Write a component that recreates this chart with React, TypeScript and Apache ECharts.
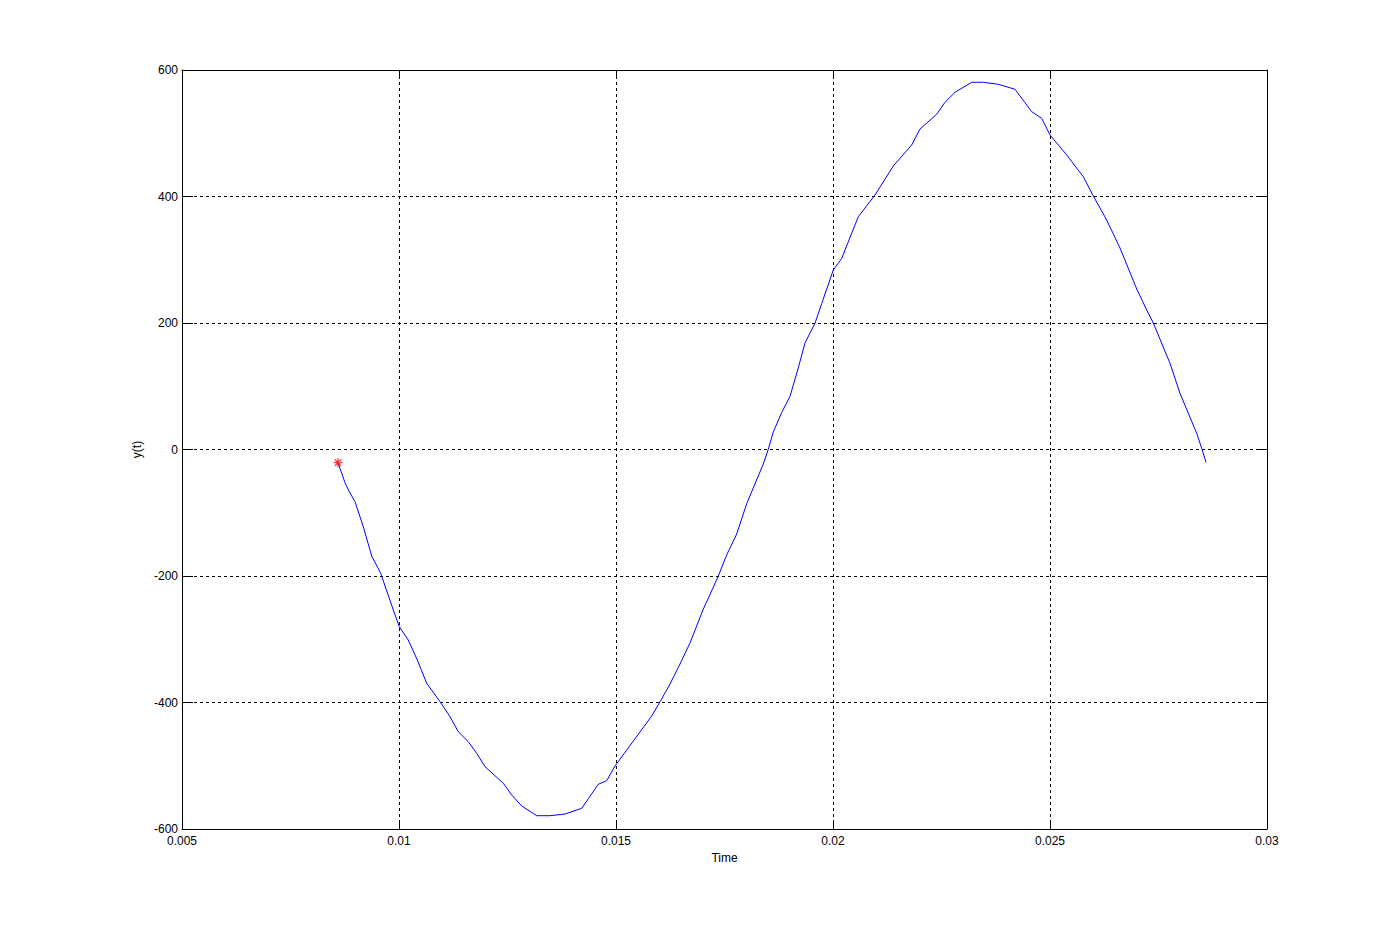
import React, { useEffect, useRef } from "react";
import * as echarts from "echarts";

const timeValues = [
  0.008594, 0.008756, 0.008855, 0.008986, 0.009177, 0.009371, 0.009578, 0.009869,
  0.010007, 0.010214, 0.010422, 0.010638, 0.010945, 0.011175, 0.011366, 0.011597,
  0.01179, 0.011982, 0.012403, 0.012597, 0.012827, 0.013173, 0.013479, 0.013825,
  0.01421, 0.014592, 0.014786, 0.014977, 0.015247, 0.015553, 0.015823, 0.016014,
  0.016244, 0.016475, 0.016705, 0.017012, 0.017166, 0.017357, 0.01755, 0.017781,
  0.018012, 0.018394, 0.018509, 0.018624, 0.018818, 0.019009, 0.0192, 0.019355,
  0.019585, 0.01974, 0.020007, 0.0202, 0.020583, 0.020968, 0.021389, 0.021813,
  0.022005, 0.022389, 0.02258, 0.022811, 0.023196, 0.023463, 0.023809, 0.024194,
  0.024578, 0.024809, 0.025, 0.025385, 0.025767, 0.025998, 0.026306, 0.026613,
  0.026998, 0.027228, 0.02738, 0.027765, 0.027995, 0.02838, 0.028495, 0.028594,
];
const yValues = [
  -20.9, -52.5, -66.7, -82.5, -122, -168.4, -195.7, -253.8,
  -280.2, -301.2, -332.8, -369.6, -398.7, -422.5, -446.2, -462,
  -480.3, -501.5, -527.7, -546.2, -563.6, -579, -579, -576.3,
  -567.3, -529.3, -523.6, -500.4, -475.1, -446.6, -421.3, -398.9,
  -370.8, -339.1, -305.9, -252.2, -229.4, -200, -166.8, -133.6,
  -85.5, -22.9, 0.3, 27.7, 58.5, 84, 129, 168.5,
  199.7, 230.7, 283.8, 302, 368.1, 402.4, 448.2, 481.4,
  506.7, 530, 548.9, 564.7, 580.6, 580.6, 577.4, 569.5,
  534.1, 523.6, 497.2, 465.6, 431.3, 400.8, 362.8, 318.6,
  253.8, 220.6, 200, 136.3, 88.9, 25.6, 1.9, -20.2,
];
const startPoint = [0.008594, -20.9];

const xMin = 0.005;
const xMax = 0.03;
const xStep = 0.005;
const yMin = -600;
const yMax = 600;
const yStep = 200;

export default function App() {
  const ref = useRef<HTMLDivElement>(null);
  useEffect(() => {
    if (!ref.current) return;
    const chart = echarts.init(ref.current, undefined, { renderer: "svg" });
    const font = "Liberation Sans, Arial, sans-serif";
    const lineData = timeValues.map((t, i) => [t, yValues[i]]);
    const fmtX = (v: number) => parseFloat(v.toFixed(4)).toString();
    chart.setOption({
      animation: false,
      backgroundColor: "#ffffff",
      grid: { left: 182, right: 133, top: 70, bottom: 102, containLabel: false },
      xAxis: [
        {
          type: "value",
          min: xMin,
          max: xMax,
          interval: xStep,
          name: "Time",
          nameLocation: "middle",
          nameGap: 22,
          nameTextStyle: { color: "#000", fontSize: 12, fontFamily: font },
          axisLine: { show: true, onZero: false, lineStyle: { color: "#000", width: 1 } },
          axisTick: { show: true, inside: true, length: 8, lineStyle: { color: "#000" } },
          axisLabel: { color: "#000", fontSize: 12, fontFamily: font, margin: 6, formatter: fmtX },
          splitLine: { show: true, lineStyle: { color: "#000", type: [3, 3], width: 1 } },
        },
        {
          type: "value",
          position: "top",
          min: xMin,
          max: xMax,
          interval: xStep,
          axisLine: { show: true, onZero: false, lineStyle: { color: "#000", width: 1 } },
          axisTick: { show: true, inside: true, length: 8, lineStyle: { color: "#000" } },
          axisLabel: { show: false },
          splitLine: { show: false },
        },
      ],
      yAxis: [
        {
          type: "value",
          min: yMin,
          max: yMax,
          interval: yStep,
          name: "y(t)",
          nameLocation: "middle",
          nameGap: 38,
          nameTextStyle: { color: "#000", fontSize: 12, fontFamily: font },
          axisLine: { show: true, onZero: false, lineStyle: { color: "#000", width: 1 } },
          axisTick: { show: true, inside: true, length: 11, lineStyle: { color: "#000" } },
          axisLabel: { color: "#000", fontSize: 12, fontFamily: font, margin: 4 },
          splitLine: { show: true, lineStyle: { color: "#000", type: [3, 3], width: 1 } },
        },
        {
          type: "value",
          position: "right",
          min: yMin,
          max: yMax,
          interval: yStep,
          axisLine: { show: true, onZero: false, lineStyle: { color: "#000", width: 1 } },
          axisTick: { show: true, inside: true, length: 11, lineStyle: { color: "#000" } },
          axisLabel: { show: false },
          splitLine: { show: false },
        },
      ],
      series: [
        {
          type: "line",
          data: lineData,
          showSymbol: false,
          symbol: "none",
          lineStyle: { color: "#0000ff", width: 1 },
          z: 3,
        },
        {
          type: "scatter",
          data: [startPoint],
          symbol: "path://M0,-5L0,5M-5,0L5,0M-3.5,-3.5L3.5,3.5M-3.5,3.5L3.5,-3.5",
          symbolSize: 9,
          itemStyle: { color: "none", borderColor: "#ff0000", borderWidth: 1.3 },
          z: 4,
        },
      ],
    });
    return () => chart.dispose();
  }, []);
  return (
    <div
      ref={ref}
      style={{ position: "fixed", left: 0, top: 0, width: 1400, height: 931, background: "#fff" }}
    />
  );
}
